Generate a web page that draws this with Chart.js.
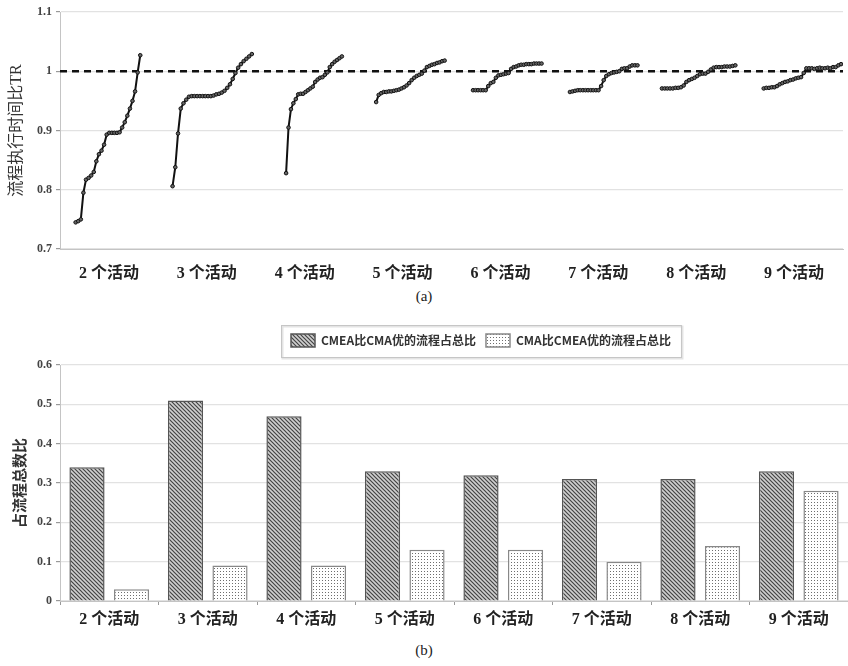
<!DOCTYPE html>
<html>
<head>
<meta charset="utf-8">
<script src="https://cdn.jsdelivr.net/npm/chart.js@4.4.0/dist/chart.umd.min.js"></script>
<style>
body { margin: 0; background: #fff; width: 848px; height: 666px; position: relative; overflow: hidden; }
.box { position: absolute; left: 0; width: 848px; }
#topBox { top: 0; height: 280px; }
#botBox { top: 318px; height: 314px; }
.cap { position: absolute; left: 0; width: 848px; text-align: center; font: 15px 'Liberation Serif', serif; color: #222; }
</style>
</head>
<body>
<div class="box" id="topBox"><canvas id="trChart"></canvas></div>
<div class="cap" style="top:288px">(a)</div>
<div class="box" id="botBox"><canvas id="shareChart"></canvas></div>
<div class="cap" style="top:642px">(b)</div>
<script>
// categories and tick values
const categories = ['2 个活动', '3 个活动', '4 个活动', '5 个活动', '6 个活动', '7 个活动', '8 个活动', '9 个活动'];
const trTicks = [0.7, 0.8, 0.9, 1, 1.1];
const shareTicks = [0, 0.1, 0.2, 0.3, 0.4, 0.5, 0.6];
const refValue = 1;

// (a) sorted TR values per activity count
const tr2 = [0.745, 0.747, 0.750, 0.795, 0.817, 0.820, 0.824, 0.830, 0.848, 0.860, 0.866, 0.876, 0.893,
    0.896, 0.896, 0.896, 0.896, 0.897, 0.905, 0.914, 0.925, 0.937, 0.950, 0.966, 0.998, 1.027];
const tr3 = [0.806, 0.838, 0.895, 0.937, 0.946, 0.952, 0.957, 0.958, 0.958, 0.958, 0.958, 0.958, 0.958,
    0.958, 0.958, 0.959, 0.961, 0.962, 0.964, 0.967, 0.972, 0.978, 0.987, 0.997, 1.006, 1.012, 1.017,
    1.021, 1.025, 1.029];
const tr4 = [0.828, 0.905, 0.936, 0.946, 0.953, 0.961, 0.962, 0.962, 0.965, 0.968, 0.971, 0.974, 0.982,
    0.986, 0.989, 0.990, 0.994, 0.998, 1.007, 1.012, 1.016, 1.019, 1.022, 1.025];
const tr5 = [0.948, 0.960, 0.963, 0.965, 0.965, 0.966, 0.966, 0.967, 0.968, 0.969, 0.971, 0.973, 0.976,
    0.980, 0.985, 0.989, 0.992, 0.994, 0.996, 1.001, 1.007, 1.009, 1.011, 1.012, 1.014, 1.015, 1.017, 1.018];
const tr6 = [0.968, 0.968, 0.968, 0.968, 0.968, 0.968, 0.975, 0.980, 0.982, 0.989, 0.993, 0.994, 0.995,
    0.996, 0.997, 1.004, 1.007, 1.008, 1.010, 1.011, 1.011, 1.012, 1.012, 1.012, 1.013, 1.013, 1.013, 1.013];
const tr7 = [0.965, 0.966, 0.967, 0.968, 0.968, 0.968, 0.968, 0.968, 0.968, 0.968, 0.968, 0.968, 0.975,
    0.985, 0.992, 0.995, 0.997, 0.998, 0.999, 1.000, 1.004, 1.005, 1.005, 1.008, 1.010, 1.010, 1.010];
const tr8 = [0.971, 0.971, 0.971, 0.971, 0.971, 0.972, 0.972, 0.973, 0.976, 0.982, 0.985, 0.987, 0.989,
    0.992, 0.995, 0.996, 0.996, 0.999, 1.003, 1.006, 1.007, 1.007, 1.007, 1.008, 1.008, 1.008, 1.009, 1.010];
const tr9 = [0.971, 0.972, 0.972, 0.973, 0.973, 0.975, 0.978, 0.980, 0.982, 0.983, 0.985, 0.986, 0.988,
    0.989, 0.990, 0.997, 1.005, 1.005, 1.005, 1.004, 1.005, 1.006, 1.005, 1.005, 1.006, 1.005, 1.007,
    1.007, 1.010, 1.012];
const trGroups = [tr2, tr3, tr4, tr5, tr6, tr7, tr8, tr9];

// (b) share of processes
const cmeaBetter = [0.34, 0.51, 0.47, 0.33, 0.32, 0.31, 0.31, 0.33];
const cmaBetter = [0.03, 0.09, 0.09, 0.13, 0.13, 0.10, 0.14, 0.28];

// where each curve sits inside its category band (layout only)
const bandFrom = [0.16, 0.15, 0.31, 0.23, 0.22, 0.21, 0.15, 0.19];
const bandTo = [0.82, 0.96, 0.88, 0.93, 0.92, 0.90, 0.90, 0.98];

const SERIF = "'Liberation Serif', 'Noto Sans CJK SC', serif";
const SANS = "'Noto Sans CJK SC', 'Noto Sans', sans-serif";

function serifBold(size) {
    return { family: SERIF, size: size, weight: 'bold' };
}

// ---------- (a) line chart ----------
const lineSets = trGroups.map((vals, g) => ({
    data: vals.map((v, i) => ({
        x: g + bandFrom[g] + (bandTo[g] - bandFrom[g]) * i / (vals.length - 1),
        y: v
    })),
    borderColor: '#111',
    borderWidth: 2,
    pointRadius: 1.8,
    pointBorderWidth: 1,
    pointBorderColor: '#111',
    pointBackgroundColor: '#666',
    tension: 0
}));

lineSets.push({
    data: [{ x: 0, y: refValue }, { x: categories.length, y: refValue }],
    borderColor: '#111',
    borderWidth: 2.6,
    borderDash: [7, 5],
    pointRadius: 0
});

new Chart(document.getElementById('trChart'), {
    type: 'line',
    data: { datasets: lineSets },
    options: {
        responsive: true,
        maintainAspectRatio: false,
        animation: false,
        layout: { padding: { top: 12, right: 0, left: 0, bottom: 0 } },
        plugins: { legend: { display: false }, tooltip: { enabled: false } },
        scales: {
            x: {
                type: 'linear',
                min: 0,
                max: categories.length,
                afterBuildTicks: (s) => { s.ticks = categories.map((c, i) => ({ value: i + 0.5 })); },
                afterFit: (s) => { s.height = 31; },
                ticks: {
                    callback: (v) => categories[Math.floor(v)],
                    font: serifBold(16),
                    color: '#222',
                    padding: 7,
                    maxRotation: 0,
                    autoSkip: false
                },
                grid: { display: false },
                border: { color: '#c4c4c4', width: 1 }
            },
            y: {
                min: 0.7,
                max: 1.1,
                afterBuildTicks: (s) => { s.ticks = trTicks.map(v => ({ value: v })); },
                afterFit: (s) => { s.width = 60; },
                ticks: { font: serifBold(12), color: '#444', padding: 4, callback: (v) => String(v) },
                grid: { color: '#e2e2e2', lineWidth: 1.2, tickLength: 4, tickColor: '#999' },
                border: { color: '#c4c4c4', width: 1 },
                title: {
                    display: true,
                    text: '流程执行时间比TR',
                    font: { family: SERIF, size: 16 },
                    color: '#333',
                    padding: { top: 7, bottom: 0 }
                }
            }
        }
    }
});

// ---------- (b) bar chart ----------
function makeHatch() {
    const c = document.createElement('canvas');
    c.width = 4; c.height = 4;
    const g = c.getContext('2d');
    g.fillStyle = '#d0d0d0';
    g.fillRect(0, 0, 4, 4);
    g.strokeStyle = '#444';
    g.lineWidth = 1.2;
    [[-1, -1, 5, 5], [3, -1, 5, 1], [-1, 3, 1, 5]].forEach(([a, b, cc, d]) => {
        g.beginPath(); g.moveTo(a, b); g.lineTo(cc, d); g.stroke();
    });
    return g.createPattern(c, 'repeat');
}

function makeDots() {
    const c = document.createElement('canvas');
    c.width = 3; c.height = 3;
    const g = c.getContext('2d');
    g.fillStyle = '#fff';
    g.fillRect(0, 0, 3, 3);
    g.fillStyle = '#6e6e6e';
    g.fillRect(1, 1, 1, 1);
    return g.createPattern(c, 'repeat');
}

// move the legend to its spot and draw its frame
const legendFrame = {
    id: 'legendFrame',
    afterLayout(chart) {
        const lg = chart.legend;
        const w = lg.right - lg.left;
        lg.left = 281; lg.right = 281 + w;
        lg.top -= 8; lg.bottom -= 8;
    },
    afterDraw(chart) {
        const boxes = chart.legend.legendHitBoxes;
        if (!boxes || !boxes.length) return;
        const last = boxes[boxes.length - 1];
        const x0 = boxes[0].left - 10, y0 = boxes[0].top - 9;
        const x1 = last.left + last.width + 10, y1 = boxes[0].top + boxes[0].height + 10;
        const ctx = chart.ctx;
        ctx.save();
        ctx.strokeStyle = '#e4e4e4';
        ctx.lineWidth = 2;
        ctx.strokeRect(x0 + 1.5, y0 + 1.5, x1 - x0, y1 - y0);
        ctx.strokeStyle = '#c6c6c6';
        ctx.lineWidth = 1;
        ctx.strokeRect(x0 + 0.5, y0 + 0.5, x1 - x0, y1 - y0);
        ctx.restore();
    }
};

new Chart(document.getElementById('shareChart'), {
    type: 'bar',
    data: {
        labels: categories,
        datasets: [
            {
                label: 'CMEA比CMA优的流程占总比',
                data: cmeaBetter,
                backgroundColor: makeHatch(),
                borderColor: '#555',
                borderWidth: 1.5
            },
            {
                label: 'CMA比CMEA优的流程占总比',
                data: cmaBetter,
                backgroundColor: makeDots(),
                borderColor: '#888',
                borderWidth: 1.5
            }
        ]
    },
    options: {
        responsive: true,
        maintainAspectRatio: false,
        animation: false,
        datasets: { bar: { categoryPercentage: 0.904, barPercentage: 0.79 } },
        layout: { padding: { top: 14, right: 0, left: 0, bottom: 0 } },
        plugins: {
            tooltip: { enabled: false },
            legend: {
                position: 'top',
                align: 'start',
                labels: {
                    boxWidth: 24,
                    boxHeight: 13,
                    padding: 10,
                    color: '#333',
                    font: { family: SANS, size: 12, weight: 'bold' }
                }
            }
        },
        scales: {
            x: {
                afterFit: (s) => { s.height = 31; },
                ticks: { font: serifBold(16), color: '#222', padding: 5, maxRotation: 0 },
                grid: { offset: true, drawOnChartArea: false, tickLength: 4, color: '#999' },
                border: { color: '#c4c4c4', width: 1 }
            },
            y: {
                min: 0,
                max: 0.6,
                afterBuildTicks: (s) => { s.ticks = shareTicks.map(v => ({ value: v })); },
                afterFit: (s) => { s.width = 60; },
                ticks: { font: serifBold(12), color: '#444', padding: 4, callback: (v) => String(v) },
                grid: { color: '#e2e2e2', lineWidth: 1.2, tickLength: 4, tickColor: '#999' },
                border: { color: '#c4c4c4', width: 1 },
                title: {
                    display: true,
                    text: '占流程总数比',
                    font: { family: SERIF, size: 15, weight: 'bold' },
                    color: '#333',
                    padding: { top: 12, bottom: 0 }
                }
            }
        }
    },
    plugins: [legendFrame]
});
</script>
</body>
</html>
